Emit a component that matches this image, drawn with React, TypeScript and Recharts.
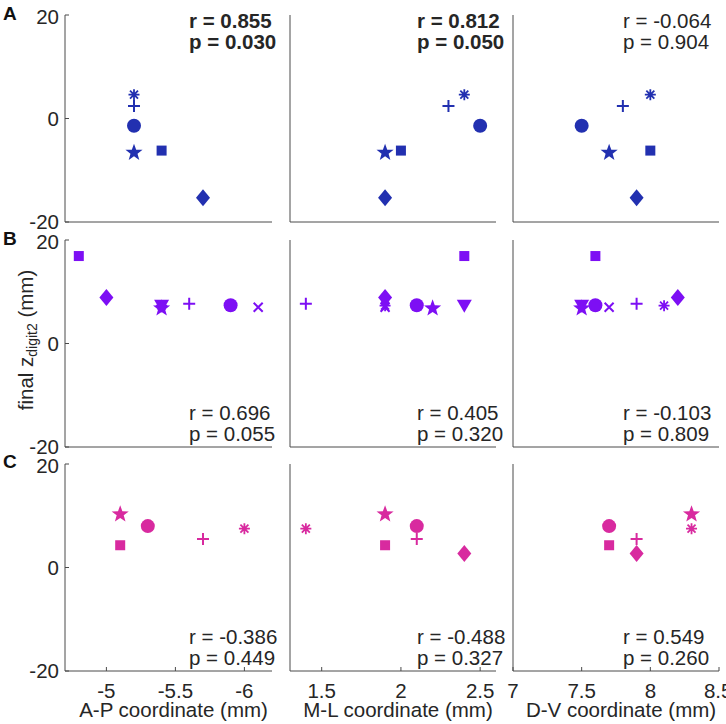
import { ScatterChart, Scatter, XAxis, YAxis } from "recharts";

// marker kinds per row (one entry per animal)
const markersA = ["asterisk", "plus", "circle", "star", "square", "diamond"];
const zA = [4.6, 2.4, -1.4, -6.6, -6.2, -15.3];
const apA = [-5.2, -5.2, -5.2, -5.2, -5.4, -5.7];
const mlA = [2.4, 2.3, 2.5, 1.9, 2.0, 1.9];
const dvA = [8.0, 7.8, 7.5, 7.7, 8.0, 7.9];

const markersB = ["square", "diamond", "triangle", "star", "plus", "circle", "x", "asterisk"];
const zB = [16.9, 8.9, 7.5, 6.8, 7.7, 7.4, 7.0, 7.3];
const apB = [-4.8, -5.0, -5.4, -5.4, -5.6, -5.9, -6.1, -5.4];
const mlB = [2.4, 1.9, 2.4, 2.2, 1.4, 2.1, 1.9, 1.9];
const dvB = [7.6, 8.2, 7.5, 7.5, 7.9, 7.6, 7.7, 8.1];

const markersC = ["star", "circle", "square", "plus", "asterisk", "diamond"];
const zC = [10.3, 8.0, 4.3, 5.5, 7.5, 2.7];
const apC = [-5.1, -5.3, -5.1, -5.7, -6.0, null];
const mlC = [1.9, 2.1, 1.9, 2.1, 1.4, 2.4];
const dvC = [8.3, 7.7, 7.7, 7.9, 8.3, 7.9];

const rVals = [
  ["0.855", "0.812", "-0.064"],
  ["0.696", "0.405", "-0.103"],
  ["-0.386", "-0.488", "0.549"],
];
const pVals = [
  ["0.030", "0.050", "0.904"],
  ["0.055", "0.320", "0.809"],
  ["0.449", "0.327", "0.260"],
];

const rowLetters = ["A", "B", "C"];
const rowColors = ["#2230b0", "#7d0ff4", "#d82a9f"];
const xLabels = ["A-P coordinate (mm)", "M-L coordinate (mm)", "D-V coordinate (mm)"];
const xDomains: [number, number][] = [[-6.2, -4.7], [1.3, 2.6], [7, 8.5]];
const xTicks = [[-6, -5.5, -5], [1.5, 2, 2.5], [7, 7.5, 8, 8.5]];
const yTicks = [-20, 0, 20];

const rows = [
  { markers: markersA, z: zA, xs: [apA, mlA, dvA] },
  { markers: markersB, z: zB, xs: [apB, mlB, dvB] },
  { markers: markersC, z: zC, xs: [apC, mlC, dvC] },
];

const PLOT_L = [65, 290, 513];
const PLOT_W = [207, 206, 206];
const PLOT_T = [15, 240, 464];
const PLOT_H = 207;
const TEXT_X = [189, 417, 623];

const FONT = "'Liberation Sans', Arial, Helvetica, sans-serif";
const TXT = "#262626";
const AX = "#4a4a4a";
const FS = 20.5;

function Marker({ cx, cy, kind, color }: any) {
  if (cx == null || cy == null) return null;
  switch (kind) {
    case "circle":
      return <circle cx={cx} cy={cy} r={7} fill={color} />;
    case "square":
      return <rect x={cx - 5} y={cy - 5} width={10} height={10} fill={color} />;
    case "diamond":
      return (
        <polygon
          points={`${cx},${cy - 8.5} ${cx + 7},${cy} ${cx},${cy + 8.5} ${cx - 7},${cy}`}
          fill={color}
        />
      );
    case "triangle":
      return (
        <polygon
          points={`${cx - 7.5},${cy - 5} ${cx + 7.5},${cy - 5} ${cx},${cy + 8}`}
          fill={color}
        />
      );
    case "star": {
      const pts: string[] = [];
      for (let i = 0; i < 10; i++) {
        const rad = i % 2 === 0 ? 9 : 3.7;
        const a = -Math.PI / 2 + (i * Math.PI) / 5;
        pts.push(`${cx + rad * Math.cos(a)},${cy + rad * Math.sin(a)}`);
      }
      return <polygon points={pts.join(" ")} fill={color} />;
    }
    case "plus":
      return (
        <path
          d={`M${cx - 6},${cy}H${cx + 6}M${cx},${cy - 6}V${cy + 6}`}
          stroke={color}
          strokeWidth={2}
        />
      );
    case "x":
      return (
        <path
          d={`M${cx - 4.5},${cy - 4.5}L${cx + 4.5},${cy + 4.5}M${cx + 4.5},${cy - 4.5}L${cx - 4.5},${cy + 4.5}`}
          stroke={color}
          strokeWidth={2}
        />
      );
    case "asterisk":
      return (
        <path
          d={`M${cx - 5.5},${cy}H${cx + 5.5}M${cx},${cy - 5.5}V${cy + 5.5}M${cx - 4},${cy - 4}L${cx + 4},${cy + 4}M${cx + 4},${cy - 4}L${cx - 4},${cy + 4}`}
          stroke={color}
          strokeWidth={1.8}
        />
      );
    default:
      return null;
  }
}

function Panel({ row, col }: { row: number; col: number }) {
  const r = rows[row];
  const color = rowColors[row];
  const yw = 60;
  const xh = 50;
  const mt = 10;
  const mr = 12;
  return (
    <div style={{ position: "absolute", left: PLOT_L[col] - yw, top: PLOT_T[row] - mt }}>
      <ScatterChart
        width={yw + PLOT_W[col] + mr}
        height={mt + PLOT_H + xh}
        margin={{ top: mt, right: mr, bottom: 0, left: 0 }}
      >
        <XAxis
          type="number"
          dataKey="x"
          domain={xDomains[col]}
          ticks={xTicks[col]}
          reversed={col === 0}
          allowDataOverflow
          height={xh}
          stroke={AX}
          tickSize={-4}
          tickMargin={16}
          tick={row === 2 ? { fill: TXT, fontSize: FS, fontFamily: FONT } : false}
        />
        <YAxis
          type="number"
          dataKey="y"
          domain={[-20, 20]}
          ticks={yTicks}
          allowDataOverflow
          width={yw}
          stroke={AX}
          tickSize={-4}
          tickMargin={10}
          tick={col === 0 ? { fill: TXT, fontSize: FS, fontFamily: FONT } : false}
        />
        {r.markers.map((kind, i) => {
          const xv = r.xs[col][i];
          const data = xv == null ? [] : [{ x: xv, y: r.z[i] }];
          return (
            <Scatter
              key={kind}
              data={data}
              isAnimationActive={false}
              shape={(p: any) => <Marker cx={p.cx} cy={p.cy} kind={kind} color={color} />}
            />
          );
        })}
      </ScatterChart>
    </div>
  );
}

function Overlay() {
  return (
    <svg
      width={726}
      height={724}
      style={{ position: "absolute", left: 0, top: 0, pointerEvents: "none" }}
      fontFamily={FONT}
    >
      {rowLetters.map((l, i) => (
        <text key={l} x={3} y={[20, 245, 468][i]} fontSize={19} fontWeight="bold" fill="#111">
          {l}
        </text>
      ))}
      <text
        transform="translate(33,340) rotate(-90)"
        textAnchor="middle"
        fontSize={FS}
        fill={TXT}
      >
        final z
        <tspan fontSize={14} dy={4}>digit2</tspan>
        <tspan dy={-4}> (mm)</tspan>
      </text>
      {xLabels.map((t, c) => (
        <text
          key={t}
          x={PLOT_L[c] + PLOT_W[c] / 2 + 5}
          y={717}
          textAnchor="middle"
          fontSize={FS}
          fill={TXT}
        >
          {t}
        </text>
      ))}
      {rVals.map((rowR, ri) =>
        rowR.map((rv, c) => {
          const pv = pVals[ri][c];
          const bold = parseFloat(pv) <= 0.05;
          const base = ri === 0 ? PLOT_T[0] + 13 : PLOT_T[ri] + PLOT_H - 27;
          return (
            <text
              key={`${ri}-${c}`}
              x={TEXT_X[c]}
              y={base}
              fontSize={FS}
              fontWeight={bold ? "bold" : "normal"}
              fill={TXT}
            >
              <tspan x={TEXT_X[c]}>{`r = ${rv}`}</tspan>
              <tspan x={TEXT_X[c]} dy={21}>{`p = ${pv}`}</tspan>
            </text>
          );
        })
      )}
    </svg>
  );
}

export default function App() {
  const panels = [];
  for (let r = 0; r < 3; r++) for (let c = 0; c < 3; c++) panels.push(<Panel key={`${r}${c}`} row={r} col={c} />);
  return (
    <div
      style={{
        position: "absolute",
        left: 0,
        top: 0,
        width: 726,
        height: 724,
        background: "#fff",
        fontFamily: FONT,
      }}
    >
      {panels}
      <Overlay />
    </div>
  );
}
